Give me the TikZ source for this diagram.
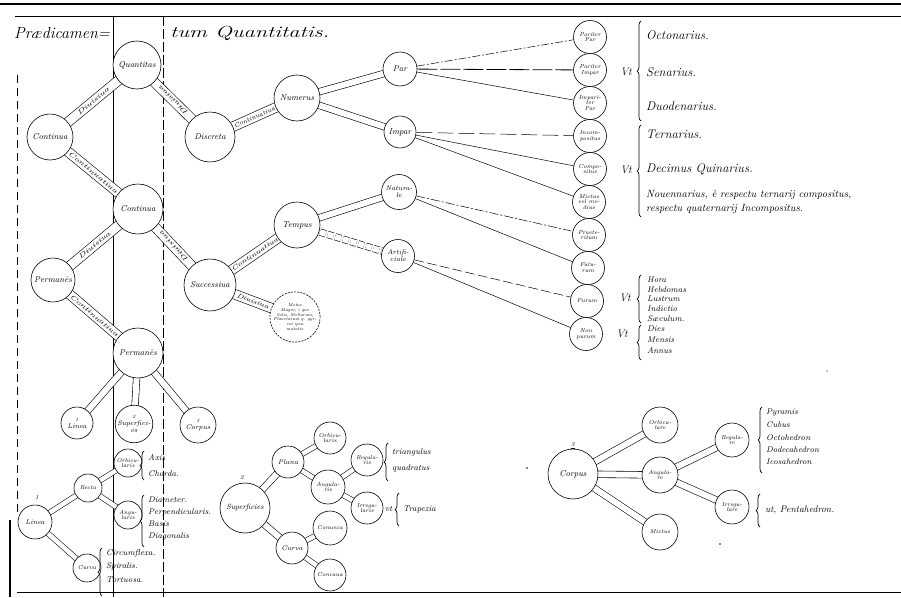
\documentclass[tikz,border=0pt]{standalone}
\usepackage{graphicx}
\usetikzlibrary{backgrounds,decorations.pathreplacing}
\newcommand\widen[2][1.4]{\scalebox{#1}[1]{#2}}
\begin{document}
\begin{tikzpicture}[x=1pt,y=-1pt,
  ball/.style={circle, draw, fill=white, line width=0.6pt, inner sep=0pt, align=center, minimum size=#1},
  fbig/.style={font=\fontsize{8.5}{9}\selectfont\itshape},
  fmid/.style={font=\fontsize{6.8}{7}\selectfont\itshape},
  fsml/.style={font=\fontsize{5.8}{5.9}\selectfont\itshape},
  lab/.style={sloped, inner sep=0pt, font=\fontsize{6.5}{7}\selectfont\itshape},
  broad/.style={line width=0.6pt, double=white, double distance=9pt},
  mid/.style={line width=0.6pt, double=white, double distance=6pt},
  slim/.style={line width=0.55pt, double=white, double distance=4.5pt},
  twig/.style={line width=0.5pt},
  curly/.style={decorate, decoration={brace, amplitude=4pt}, line width=0.7pt},
  bigitem/.style={anchor=west, inner sep=0pt, font=\fontsize{12.5}{13}\selectfont\itshape},
  miditem/.style={anchor=west, inner sep=0pt, font=\fontsize{10.5}{11}\selectfont\itshape},
  smlitem/.style={anchor=west, inner sep=0pt, font=\fontsize{8.3}{9}\selectfont\itshape},
  vt/.style={inner sep=0pt, font=\fontsize{11}{12}\selectfont\itshape},
  num/.style={inner sep=0pt, font=\fontsize{6}{6}\selectfont\itshape},
]
\useasboundingbox (0,0) rectangle (901,597);

% ---------- title ----------
\node[anchor=west, inner sep=0pt, font=\fontsize{16}{17}\selectfont\itshape] (ttlA) at (14,33) {Prædicamen=};
\node[anchor=west, inner sep=0pt, font=\fontsize{16}{17}\selectfont\itshape] (ttlB) at (170,33) {\widen{tum Quantitatis.}};

% ---------- first tree: Quantitas ----------
\node[ball=48, fbig] (quant) at (137,65) {Quantitas};
\node[ball=46, fbig] (contA) at (50,137) {Continua};
\node[ball=50, fbig] (discr) at (210,137) {Discreta};
\node[ball=46, fbig] (numer) at (297,98) {Numerus};
\node[ball=34, fbig] (par) at (400,69) {Par};
\node[ball=32, fbig] (impar) at (400,132) {Impar};

% species of number and time
\node[ball=33, fsml] (pp) at (590,37) {Pariter\\Par};
\node[ball=33, fsml] (pi) at (590,70) {Pariter\\Impar};
\node[ball=33, fsml] (ip) at (590,103) {Impari-\\ter\\Par};
\node[ball=33, fsml] (inc) at (590,136) {Incom-\\positus};
\node[ball=33, fsml] (comp) at (590,169) {Compo-\\situs};
\node[ball=33, fsml] (mix) at (589,202) {Mixtus\\vel me-\\dius};
\node[ball=33, fsml] (prae) at (589,235) {Praete-\\ritum};
\node[ball=33, fsml] (fut) at (588,268) {Futu-\\rum};
\node[ball=33, fsml] (pur) at (587,301) {Purum};
\node[ball=33, fsml] (npur) at (586,334) {Non\\purum};

% ---------- second tree: Continua ----------
\node[ball=50, fbig] (contB) at (138,209) {Continua};
\node[ball=44, fbig] (permA) at (53,280) {Permanēs};
\node[ball=52, fbig] (succ) at (210,285) {Successiua};
\node[ball=50, fbig] (permB) at (138,353) {Permanēs};
\node[ball=46, fbig] (temp) at (297,225) {Tempus};
\node[ball=35, fmid] (natur) at (399,192) {Natura-\\le};
\node[ball=33, fmid] (artif) at (398,256) {Artifi-\\ciale};
\node[ball=48, dash pattern=on 2pt off 1.2pt, font=\fontsize{4.3}{4.7}\selectfont\itshape] (motus) at (295,317)
  {Motus\\Magni, i quo\\Solis, Stellarum,\\Planetarum q. gyr-\\est ipsa\\mutatio};

\node[ball=32, fmid] (linA) at (77,423) {{\fontsize{5}{5}\selectfont 1}\\Linea};
\node[ball=36, fmid] (supA) at (134,424) {{\fontsize{5}{5}\selectfont 2}\\Superfici-\\es};
\node[ball=36, fmid] (corA) at (198,425) {{\fontsize{5}{5}\selectfont 3}\\Corpus};

% ---------- Linea ----------
\node[num] (nA) at (37,497) {1};
\node[ball=34, fmid] (lin) at (35,522) {Linea};
\node[ball=28, fsml] (rect) at (88,488) {Recta};
\node[ball=28, fsml] (curA) at (87,568) {Curva};
\node[ball=28, fsml] (orbA) at (128,463) {Orbicu-\\laris};
\node[ball=28, fsml] (angA) at (128,515) {Angu-\\laris};

% ---------- Superficies ----------
\node[num] (nB) at (242,478) {2};
\node[ball=50, font=\fontsize{7.5}{8}\selectfont\itshape] (supB) at (245,508) {Superficies};
\node[ball=32, fmid] (plan) at (288,462) {Plana};
\node[ball=32, fmid] (curB) at (292,548) {Curva};
\node[ball=32, fsml] (orbB) at (330,438) {Orbicu-\\laris};
\node[ball=34, fsml] (angB) at (328,487) {Angula-\\ris};
\node[ball=32, fsml] (regB) at (367,460) {Regula-\\ris};
\node[ball=32, fsml] (irrB) at (367,508) {Irregu-\\laris};
\node[ball=34, fsml] (conv) at (330,528) {Conuexa};
\node[ball=32, fsml] (conc) at (330,575) {Concaua};

% ---------- Corpus ----------
\node[num] (nC) at (573,446) {\underline{3}};
\node[ball=50, fbig] (corB) at (573,474) {Corpus};
\node[ball=36, fsml] (orbC) at (660,425) {Orbicu-\\lare};
\node[ball=36, fsml] (angC) at (660,475) {Angula-\\re};
\node[ball=34, fsml] (regC) at (732,440) {Regula-\\re};
\node[ball=34, fsml] (irrC) at (732,507) {Irregu-\\lare};
\node[ball=36, fsml] (mixC) at (660,532) {Mixtus};

% ---------- rules and bands, behind the circles ----------
\begin{scope}[on background layer]
  \fill[white] (0,0) rectangle (901,597);
  \draw[line width=2.6pt] (0,4) -- (901,4);
  \draw[line width=0.7pt] (15,16) -- (901,16);
  \draw[line width=0.6pt] (113,16) -- (113,597);
  \draw[line width=0.6pt, dash pattern=on 10pt off 3pt] (163,16) -- (163,597);
  \draw[line width=0.5pt, dash pattern=on 8pt off 5pt] (17,75) -- (17,515);
  \draw[line width=1.2pt] (10,520) -- (10,597);
  \draw[line width=0.7pt] (17,592) -- (901,592);

  \draw[broad] (quant.center) -- (contA.center);
  \draw[broad] (quant.center) -- (discr.center);
  \draw[broad] (contA.center) -- (contB.center);
  \draw[broad] (discr.center) -- (numer.center);
  \draw[mid] (numer.center) -- (par.center);
  \draw[mid] (numer.center) -- (impar.center);
  \draw[broad] (contB.center) -- (permA.center);
  \draw[broad] (contB.center) -- (succ.center);
  \draw[broad] (permA.center) -- (permB.center);
  \draw[broad] (succ.center) -- (temp.center);
  \draw[broad] (succ.center) -- (motus.center);
  \draw[mid] (temp.center) -- (natur.center);
  \draw[mid, dash pattern=on 6pt off 2pt] (temp.center) -- (artif.center);
  \draw[mid] (permB.center) -- (linA.center);
  \draw[mid] (permB.center) -- (supA.center);
  \draw[mid] (permB.center) -- (corA.center);

  \draw[slim] (lin.center) -- (rect.center);
  \draw[slim] (lin.center) -- (curA.center);
  \draw[slim] (rect.center) -- (orbA.center);
  \draw[slim] (rect.center) -- (angA.center);

  \draw[mid] (supB.center) -- (plan.center);
  \draw[mid] (supB.center) -- (curB.center);
  \draw[slim] (plan.center) -- (orbB.center);
  \draw[slim] (plan.center) -- (angB.center);
  \draw[slim] (angB.center) -- (regB.center);
  \draw[slim] (angB.center) -- (irrB.center);
  \draw[slim] (curB.center) -- (conv.center);
  \draw[slim] (curB.center) -- (conc.center);

  \draw[mid] (corB.center) -- (orbC.center);
  \draw[mid] (corB.center) -- (angC.center);
  \draw[mid] (corB.center) -- (mixC.center);
  \draw[mid] (angC.center) -- (regC.center);
  \draw[mid] (angC.center) -- (irrC.center);
\end{scope}

% words written inside the bands
\path (contA) -- node[lab] {\widen{Diuisiua}} (quant);
\path (discr) -- node[lab, allow upside down] {\widen{Diuisiua}} (quant);
\path (contA) -- node[lab] {\widen{Continuatiua}} (contB);
\path (discr) -- node[lab] {Continuatiua} (numer);
\path (permA) -- node[lab] {\widen{Diuisiua}} (contB);
\path (succ) -- node[lab, allow upside down] {\widen{Diuisiua}} (contB);
\path (permA) -- node[lab] {\widen{Continuatiua}} (permB);
\path (succ) -- node[lab] {\widen[1.25]{Continuatiua}} (temp);
\path (succ) -- node[lab] {\widen[1.2]{Diuisiua}} (motus);

% thin connectors to the species
\draw[twig, dash pattern=on 8pt off 2pt on 2pt off 2pt] (par) -- (pp);
\draw[twig, line width=0.8pt, dash pattern=on 20pt off 3pt] (par) -- (pi);
\draw[twig] (par) -- (ip);
\draw[twig, dash pattern=on 16pt off 5pt] (impar) -- (inc);
\draw[twig] (impar) -- (comp);
\draw[twig] (impar) -- (mix);
\draw[twig, dash pattern=on 9pt off 2pt on 2pt off 2pt] (natur) -- (prae);
\draw[twig] (natur) -- (fut);
\draw[twig, dash pattern=on 10pt off 3pt] (artif) -- (pur);
\draw[twig] (artif) -- (npur);

% ---------- examples with braces, upper right ----------
\node[vt] (vtA) at (626,72) {Vt};
\draw[curly] (641,121) -- (641,21);
\node[bigitem] (octo) at (646,35) {Octonarius.};
\node[bigitem] (sena) at (646,72) {Senarius.};
\node[bigitem] (duod) at (646,106) {Duodenarius.};

\node[vt] (vtB) at (626,170) {Vt};
\draw[curly] (641,217) -- (641,125);
\node[bigitem] (tern) at (646,134) {Ternarius.};
\node[bigitem] (deci) at (646,169) {Decimus Quinarius.};
\node[miditem] (noue) at (646,195) {Nouennarius, è respectu ternarij compositus,};
\node[miditem] (resp) at (646,209) {respectu quaternarij Incompositus.};

\node[vt] (vtC) at (625,298) {Vt};
\draw[curly] (641,323) -- (641,275);
\node[smlitem] (hora) at (647,280) {Hora};
\node[smlitem] (hebd) at (647,290) {Hebdomas};
\node[smlitem] (lust) at (647,299) {Lustrum};
\node[smlitem] (indi) at (647,309) {Indictio};
\node[smlitem] (saec) at (647,319) {Sæculum.};

\node[vt] (vtD) at (622,334) {Vt};
\draw[curly] (641,360) -- (641,325);
\node[smlitem] (dies) at (647,329) {Dies};
\node[smlitem] (mens) at (647,340) {Mensis};
\node[smlitem] (annu) at (647,351) {Annus};

% ---------- examples with braces, lower part ----------
\draw[curly] (144,480) -- (144,451);
\node[smlitem] (axis) at (148,458) {Axis};
\node[smlitem] (chor) at (148,474) {Chorda.};

\draw[curly] (144,547) -- (144,495);
\node[smlitem] (diam) at (148,500) {Diameter.};
\node[smlitem] (perp) at (148,512) {Perpendicularis.};
\node[smlitem] (basi) at (148,524) {Basis};
\node[smlitem] (diag) at (148,536) {Diagonalis};

\draw[curly] (102,596) -- (102,548);
\node[smlitem] (circ) at (106,553) {Circumflexa.};
\node[smlitem] (spir) at (106,566) {Spiralis.};
\node[smlitem] (tort) at (106,580) {Tortuosa.};

\draw[curly] (388,481) -- (388,443);
\node[smlitem] (tria) at (392,452) {triangulus};
\node[smlitem] (quad) at (392,468) {quadratus};

\node[smlitem] (vtE) at (385,509) {vt};
\draw[curly] (399,526) -- (399,493);
\node[smlitem] (trap) at (403,509) {Trapezia};

\draw[curly] (762,473) -- (762,407);
\node[smlitem] (pyra) at (766,413) {Pyramis};
\node[smlitem] (cubu) at (766,425) {Cubus};
\node[smlitem] (octa) at (766,438) {Octohedron};
\node[smlitem] (dode) at (766,450) {Dodecahedron};
\node[smlitem] (icos) at (766,462) {Icosahedron};

\draw[curly] (760,527) -- (760,494);
\node[anchor=west, inner sep=0pt, font=\fontsize{9.5}{10}\selectfont\itshape] (pent) at (765,510) {ut, Pentahedron.};

% specks of ink
\fill (527,468) circle (0.8);
\fill (720,544) circle (0.8);
\fill (827,371) circle (0.6);
\end{tikzpicture}
\end{document}
